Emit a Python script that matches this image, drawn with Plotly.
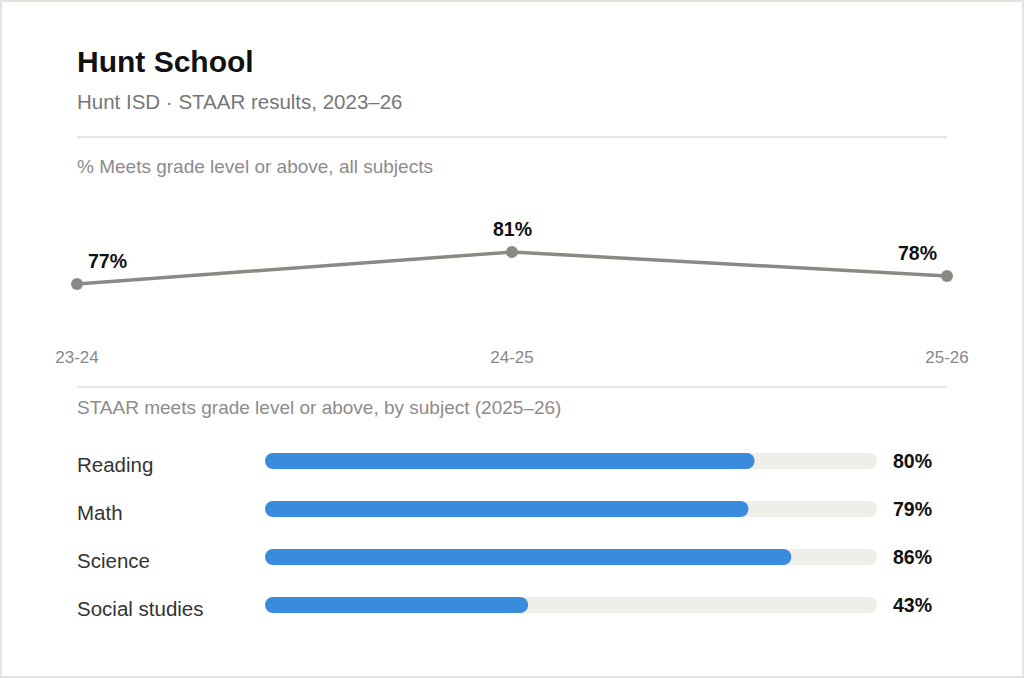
import plotly.graph_objects as go

W, H = 1024, 678

# trend data
years = ["23-24", "24-25", "25-26"]
meets_all = [77, 81, 78]

# subject data (2025-26)
subjects = ["Reading", "Math", "Science", "Social studies"]
subject_pct = [80, 79, 86, 43]
track_max = [100, 100, 100, 100]

FONT = "Liberation Sans, Arial, sans-serif"
GREY_LINE = "#8a8a84"
BLUE = "#388bdd"
TRACK = "#f0eee9"


def px_x(p):
    return p / W


def px_y(p):
    return 1 - p / H


fig = go.Figure()

# line chart, all subjects
fig.add_trace(go.Scatter(
    x=years, y=meets_all, mode="lines+markers",
    line=dict(color=GREY_LINE, width=3.5),
    marker=dict(color=GREY_LINE, size=12),
    cliponaxis=False, hoverinfo="skip", showlegend=False,
    xaxis="x", yaxis="y",
))

# pill bars: an explicit base makes plotly round both ends
for vals, col in [(track_max, TRACK), (subject_pct, BLUE)]:
    fig.add_trace(go.Bar(
        y=subjects, x=vals, base=0, orientation="h", width=1 / 3,
        marker=dict(color=col, cornerradius=8, line=dict(width=0)),
        hoverinfo="skip", showlegend=False, xaxis="x2", yaxis="y2",
    ))

annotations = [
    dict(text="<b>Hunt School</b>", x=px_x(77), y=px_y(62), font=dict(size=30, color="#111111")),
    dict(text="Hunt ISD · STAAR results, 2023–26", x=px_x(77), y=px_y(101), font=dict(size=20.5, color="#777777")),
    dict(text="% Meets grade level or above, all subjects", x=px_x(77), y=px_y(166), font=dict(size=19, color="#8c8c8c")),
    dict(text="STAAR meets grade level or above, by subject (2025–26)", x=px_x(77), y=px_y(407), font=dict(size=19, color="#8c8c8c")),
]
for a in annotations:
    a.update(xref="paper", yref="paper", xanchor="left", yanchor="middle", showarrow=False, xshift=-2)
    a["font"]["family"] = FONT

# point labels on the trend line
anchors = [("left", 9), ("center", 0), ("right", -8)]
for yr, v, (xa, xs) in zip(years, meets_all, anchors):
    annotations.append(dict(text=f"<b>{v}%</b>", x=yr, y=v, xref="x", yref="y",
                            xanchor=xa, yanchor="middle", xshift=xs, yshift=23, showarrow=False,
                            font=dict(family=FONT, size=19.5, color="#111111")))

for s, v in zip(subjects, subject_pct):
    annotations.append(dict(text=s, x=px_x(77), y=s, xref="paper", yref="y2", xshift=-2,
                            xanchor="left", yanchor="middle", yshift=-3, showarrow=False,
                            font=dict(family=FONT, size=20.5, color="#333333")))
    annotations.append(dict(text=f"<b>{v}%</b>", x=px_x(893), y=s, xref="paper", yref="y2", xshift=-2,
                            xanchor="left", yanchor="middle", showarrow=False,
                            font=dict(family=FONT, size=19.5, color="#111111")))

shapes = [
    dict(type="line", xref="paper", yref="paper", x0=px_x(77), x1=px_x(947),
         y0=px_y(137), y1=px_y(137), line=dict(color="#dddddb", width=1.5)),
    dict(type="line", xref="paper", yref="paper", x0=px_x(77), x1=px_x(947),
         y0=px_y(387), y1=px_y(387), line=dict(color="#dddddb", width=1.5)),
    dict(type="rect", xref="paper", yref="paper", x0=px_x(1), x1=px_x(W - 1),
         y0=px_y(H - 1), y1=px_y(1), line=dict(color="#e4e4de", width=2)),
]

fig.update_layout(
    template="none",
    width=W, height=H,
    margin=dict(l=0, r=0, t=0, b=0, pad=0, autoexpand=False),
    paper_bgcolor="white", plot_bgcolor="white",
    font=dict(family=FONT),
    barmode="overlay",
    annotations=annotations, shapes=shapes,
    xaxis=dict(domain=[px_x(77), px_x(947)], range=[0, 2], showgrid=False, zeroline=False,
               showline=False, ticks="", automargin=False,
               tickfont=dict(size=17, color="#888888")),
    yaxis=dict(domain=[px_y(345), px_y(200)], range=[69.375, 87.5], visible=False, automargin=False),
    xaxis2=dict(domain=[px_x(265), px_x(877)], range=[0, 100], visible=False, anchor="y2", automargin=False),
    yaxis2=dict(domain=[px_y(629), px_y(437)], range=[3.5, -0.5], visible=False, anchor="x2", automargin=False),
)

fig.write_html("out.html", config={"displayModeBar": False},
               post_script="document.body.style.margin='0';document.body.style.overflow='hidden';")
